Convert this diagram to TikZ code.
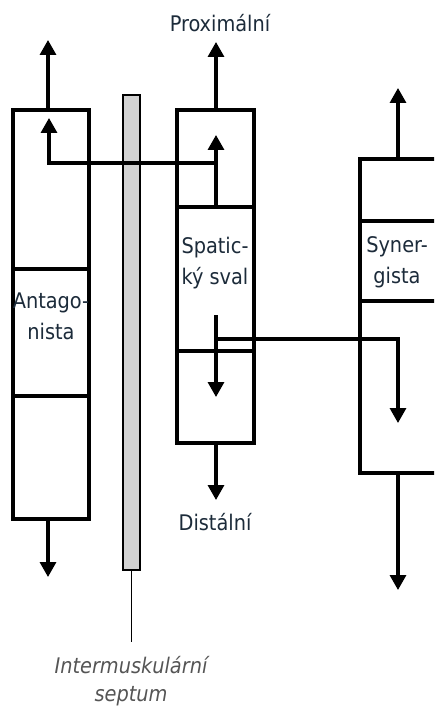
\documentclass[tikz,border=0pt]{standalone}
\usepackage{fontspec}
\setmainfont{DejaVu Sans Condensed}
\usetikzlibrary{arrows.meta}
\definecolor{labelink}{HTML}{1C2B3A}
\definecolor{noteink}{HTML}{555555}
\begin{document}
\begin{tikzpicture}[x=1pt,y=-1pt,
  muscle/.style={draw=black,line width=3.2pt,rectangle,inner sep=0pt,fill=white},
  pull/.style={line width=3.2pt,-{Triangle[width=16pt,length=15pt]}},
  seg/.style={line width=3.2pt},
  boxtext/.style={text=labelink,font=\fontsize{21.5}{31}\selectfont,align=center,inner sep=0pt},
  endtext/.style={text=labelink,font=\fontsize{21.5}{23}\selectfont,inner sep=0pt},
  note/.style={text=noteink,font=\itshape\fontsize{21.5}{28}\selectfont,align=center,inner sep=0pt}]
\useasboundingbox (0,0) rectangle (434,708);
\begin{scope}
\clip (0,0) rectangle (434,708);
% muscle columns
\node[muscle,minimum width=76pt,minimum height=409pt] (ant) at (51,314.5) {};
\node[muscle,minimum width=77pt,minimum height=333pt] (spa) at (215.5,276.5) {};
\node[muscle,minimum width=90pt,minimum height=314pt] (syn) at (405,316) {};
% intermuscular septum
\node[draw=black,line width=2.7pt,fill=gray!35,rectangle,inner sep=0pt,
      minimum width=17pt,minimum height=475pt] (sep) at (131.5,332.5) {};
% segment borders
\draw[seg] (13,269) -- (89,269);
\draw[seg] (13,396) -- (89,396);
\draw[seg] (177,207) -- (254,207);
\draw[seg] (177,351) -- (254,351);
\draw[seg] (360,221) -- (450,221);
\draw[seg] (360,301) -- (450,301);
\end{scope}
% anchor points of the tendons and force lines
\coordinate (antTop) at (48,110);
\coordinate (antTopEnd) at (48,40);
\coordinate (antBot) at (48,519);
\coordinate (antBotEnd) at (48,577);
\coordinate (spaTop) at (216,110);
\coordinate (spaTopEnd) at (216,42);
\coordinate (spaBot) at (216,443);
\coordinate (spaBotEnd) at (216,500);
\coordinate (synTop) at (398,159);
\coordinate (synTopEnd) at (398,88);
\coordinate (synBot) at (398,473);
\coordinate (synBotEnd) at (398,590);
\coordinate (upStart) at (216,207);
\coordinate (upEnd) at (216,135);
\coordinate (upSplit) at (216,163);
\coordinate (upBend) at (49,163);
\coordinate (upTip) at (49,118);
\coordinate (dnStart) at (216,315);
\coordinate (dnEnd) at (216,397);
\coordinate (dnSplit) at (216,339);
\coordinate (dnBend) at (398,339);
\coordinate (dnTip) at (398,423);
\coordinate (sepFoot) at (131.5,642);
% tendons
\draw[pull] (antTop) -- (antTopEnd);
\draw[pull] (antBot) -- (antBotEnd);
\draw[pull] (spaTop) -- (spaTopEnd);
\draw[pull] (spaBot) -- (spaBotEnd);
\draw[pull] (synTop) -- (synTopEnd);
\draw[pull] (synBot) -- (synBotEnd);
% internal force lines
\draw[pull] (upStart) -- (upEnd);
\draw[pull] (upSplit) -- (upBend) -- (upTip);
\draw[pull] (dnStart) -- (dnEnd);
\draw[pull] (dnSplit) -- (dnBend) -- (dnTip);
% septum pointer
\draw[line width=1.7pt] (sep.south) -- (sepFoot);
% labels
\node[boxtext] (antL) at (51,316) {Antago-\\nista};
\node[boxtext] (spaL) at (215,263) {Spatic-\\ký sval};
\node[boxtext] (synL) at (397,262) {Syner-\\gista};
\node[endtext] (prox) at (220,23) {Proximální};
\node[endtext] (dist) at (215,522) {Distální};
\node[note] (sepL) at (131,681) {Intermuskulární\\septum};
\end{tikzpicture}
\end{document}
